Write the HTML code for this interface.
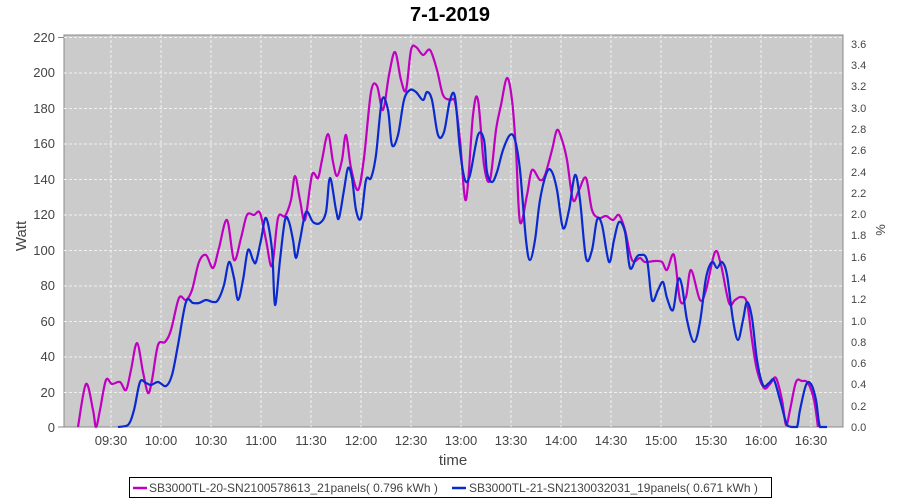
<!DOCTYPE html>
<html><head><meta charset="utf-8"><style>
body{margin:0;background:#fff;}
svg{display:block;font-family:"Liberation Sans",sans-serif;}
</style></head><body>
<svg width="900" height="500" viewBox="0 0 900 500">
<rect width="900" height="500" fill="#fff"/>
<text x="450" y="21" text-anchor="middle" font-size="20" font-weight="bold" fill="#000">7-1-2019</text>
<rect x="64" y="35" width="779" height="392" fill="#cbcbcb" stroke="#888"/>
<g stroke="#f0f0f0" stroke-dasharray="3,2" stroke-width="1">
<line x1="64" x2="843" y1="37.5" y2="37.5"/><line x1="64" x2="843" y1="73" y2="73"/><line x1="64" x2="843" y1="108.5" y2="108.5"/><line x1="64" x2="843" y1="144" y2="144"/><line x1="64" x2="843" y1="179.5" y2="179.5"/><line x1="64" x2="843" y1="215" y2="215"/><line x1="64" x2="843" y1="250.5" y2="250.5"/><line x1="64" x2="843" y1="286" y2="286"/><line x1="64" x2="843" y1="321.5" y2="321.5"/><line x1="64" x2="843" y1="357" y2="357"/><line x1="64" x2="843" y1="392.5" y2="392.5"/>
<line y1="35" y2="427" x1="111" x2="111"/><line y1="35" y2="427" x1="161" x2="161"/><line y1="35" y2="427" x1="211" x2="211"/><line y1="35" y2="427" x1="261" x2="261"/><line y1="35" y2="427" x1="311" x2="311"/><line y1="35" y2="427" x1="361" x2="361"/><line y1="35" y2="427" x1="411" x2="411"/><line y1="35" y2="427" x1="461" x2="461"/><line y1="35" y2="427" x1="511" x2="511"/><line y1="35" y2="427" x1="561" x2="561"/><line y1="35" y2="427" x1="611" x2="611"/><line y1="35" y2="427" x1="661" x2="661"/><line y1="35" y2="427" x1="711" x2="711"/><line y1="35" y2="427" x1="761" x2="761"/><line y1="35" y2="427" x1="811" x2="811"/>
</g>
<g font-size="13" fill="#444" text-anchor="end">
<text x="55" y="42">220</text><text x="55" y="77">200</text><text x="55" y="113">180</text><text x="55" y="148">160</text><text x="55" y="184">140</text><text x="55" y="219">120</text><text x="55" y="255">100</text><text x="55" y="290">80</text><text x="55" y="326">60</text><text x="55" y="361">40</text><text x="55" y="397">20</text><text x="55" y="432">0</text>
</g>
<g stroke="#888"><line x1="58" x2="64" y1="37.5" y2="37.5"/><line x1="58" x2="64" y1="427" y2="427"/></g>
<g font-size="11" fill="#444">
<text x="851" y="48">3.6</text><text x="851" y="69">3.4</text><text x="851" y="90">3.2</text><text x="851" y="112">3.0</text><text x="851" y="133">2.8</text><text x="851" y="154">2.6</text><text x="851" y="176">2.4</text><text x="851" y="197">2.2</text><text x="851" y="218">2.0</text><text x="851" y="239">1.8</text><text x="851" y="261">1.6</text><text x="851" y="282">1.4</text><text x="851" y="303">1.2</text><text x="851" y="325">1.0</text><text x="851" y="346">0.8</text><text x="851" y="367">0.6</text><text x="851" y="388">0.4</text><text x="851" y="410">0.2</text><text x="851" y="431">0.0</text>
</g>
<g font-size="13" fill="#444" text-anchor="middle">
<text x="111" y="445">09:30</text><text x="161" y="445">10:00</text><text x="211" y="445">10:30</text><text x="261" y="445">11:00</text><text x="311" y="445">11:30</text><text x="361" y="445">12:00</text><text x="411" y="445">12:30</text><text x="461" y="445">13:00</text><text x="511" y="445">13:30</text><text x="561" y="445">14:00</text><text x="611" y="445">14:30</text><text x="661" y="445">15:00</text><text x="711" y="445">15:30</text><text x="761" y="445">16:00</text><text x="811" y="445">16:30</text>
</g>
<text x="453" y="465" text-anchor="middle" font-size="15" fill="#444">time</text>
<text transform="translate(26,236) rotate(-90)" text-anchor="middle" font-size="15" fill="#444">Watt</text>
<text transform="translate(885,230) rotate(-90)" text-anchor="middle" font-size="13" fill="#444">%</text>
<polyline class="s" fill="none" stroke="#c000c0" stroke-width="2.2" stroke-linejoin="round" points="78,427 86,384 93,410 96,427 100,410 106,380 112,384 120,382 126,390 131,370 137,343 143,372 148,393 152,380 158,345 165,342 171,330 179,298 186,300 192,290 199,262 206,255 213,268 219,248 227,220 234,260 241,238 247,215 254,215 260,213 266,240 272,266 278,218 285,216 291,200 295,176 300,200 305,220 312,175 318,178 322,160 328,134 333,162 337,176 342,160 346,135 351,168 358,190 364,158 371,92 377,86 383,110 389,75 395,52 401,80 406,90 411,50 416,47 423,55 430,50 437,70 443,95 450,100 455,102 460,140 466,200 473,115 478,100 484,165 490,180 496,130 501,105 507,78 512,100 516,150 520,222 527,195 532,170 540,180 545,175 552,150 557,130 562,140 567,160 573,200 579,190 586,178 592,210 599,218 606,216 613,220 619,215 625,230 632,260 640,258 645,262 655,261 662,262 667,270 674,255 680,300 686,297 691,270 700,300 706,290 715,252 721,265 729,303 735,300 741,297 747,303 752,340 757,370 764,388 770,384 776,378 782,400 786,425 790,410 796,382 802,381 808,383 814,400 818,427"/>
<polyline class="s" fill="none" stroke="#0a2ad0" stroke-width="2.2" stroke-linejoin="round" points="118,427 128,425 134,410 140,382 146,383 151,385 158,382 166,386 172,375 178,345 186,302 193,303 199,303 206,300 213,302 218,300 224,285 229,262 234,278 238,300 243,280 248,250 253,260 256,262 261,240 266,218 272,250 275,305 280,260 285,220 289,222 293,240 296,258 300,240 306,212 313,222 320,223 326,212 330,178 336,210 339,218 344,190 348,168 352,178 356,210 361,218 366,180 371,178 376,155 382,100 388,110 392,145 398,135 404,100 410,90 416,92 423,100 427,92 432,100 438,135 444,132 450,100 455,97 460,150 465,180 470,175 478,135 484,140 487,172 492,182 497,172 503,150 510,135 515,140 520,170 526,240 530,260 535,240 540,200 547,172 552,172 557,190 563,228 569,210 575,175 580,200 586,258 592,250 597,220 602,225 609,262 614,240 619,222 625,232 630,268 636,258 640,255 647,260 652,300 658,290 663,282 667,298 673,310 678,280 682,286 687,320 694,342 700,322 706,278 712,262 717,268 722,262 727,275 733,320 738,340 743,320 747,302 752,318 757,360 763,385 769,383 774,380 780,400 787,425 792,427 797,427 800,410 806,385 811,384 816,400 820,427 827,427"/>
<rect x="129.5" y="477.5" width="642" height="20" fill="#fff" stroke="#000"/>
<line x1="133" x2="147" y1="488" y2="488" stroke="#c000c0" stroke-width="2.5"/>
<text x="149" y="492" font-size="12" fill="#444">SB3000TL-20-SN2100578613_21panels( 0.796 kWh )</text>
<line x1="452" x2="466" y1="488" y2="488" stroke="#0a2ad0" stroke-width="2.5"/>
<text x="469" y="492" font-size="12" fill="#444">SB3000TL-21-SN2130032031_19panels( 0.671 kWh )</text>
</svg>
<script>
document.querySelectorAll('polyline.s').forEach(function(pl){
  var p=pl.getAttribute('points').trim().split(/\s+/).map(function(s){var a=s.split(',');return[+a[0],+a[1]];});
  var d='M'+p[0][0]+','+p[0][1];
  for(var i=0;i<p.length-1;i++){
    var p0=p[i-1]||p[i],p1=p[i],p2=p[i+1],p3=p[i+2]||p2;
    var c1x=p1[0]+(p2[0]-p0[0])/6,c1y=p1[1]+(p2[1]-p0[1])/6;
    var c2x=p2[0]-(p3[0]-p1[0])/6,c2y=p2[1]-(p3[1]-p1[1])/6;
    d+=' C'+c1x+','+Math.min(c1y,427)+' '+c2x+','+Math.min(c2y,427)+' '+p2[0]+','+p2[1];
  }
  var path=document.createElementNS('http://www.w3.org/2000/svg','path');
  path.setAttribute('d',d);path.setAttribute('fill','none');
  path.setAttribute('stroke',pl.getAttribute('stroke'));path.setAttribute('stroke-width','2.2');
  pl.parentNode.replaceChild(path,pl);
});
</script>
</body></html>
